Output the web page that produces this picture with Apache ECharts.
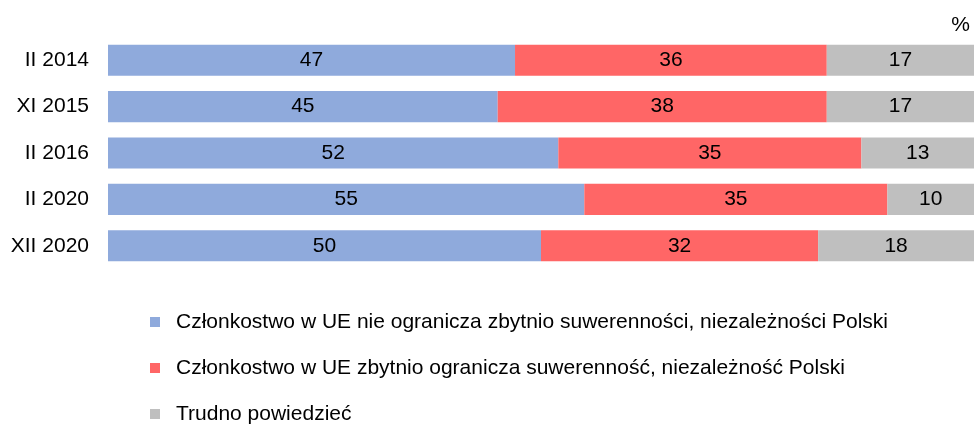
<!DOCTYPE html>
<html>
<head>
<meta charset="utf-8">
<script src="https://cdn.jsdelivr.net/npm/echarts@6/dist/echarts.min.js"></script>
<style>
html, body { margin: 0; padding: 0; background: #fff; }
#chart { width: 974px; height: 426px; }
</style>
</head>
<body>
<div id="chart"></div>
<script>
var categories = ['II 2014', 'XI 2015', 'II 2016', 'II 2020', 'XII 2020'];
var seriesNames = [
    'Członkostwo w UE nie ogranicza zbytnio suwerenności, niezależności Polski',
    'Członkostwo w UE zbytnio ogranicza suwerenność, niezależność Polski',
    'Trudno powiedzieć'
];
var nieOgranicza = [47, 45, 52, 55, 50];
var ogranicza = [36, 38, 35, 35, 32];
var trudno = [17, 17, 13, 10, 18];
var colors = ['#8faadc', '#ff6666', '#bfbfbf'];

var font = 'Liberation Sans, Arial, sans-serif';

function makeSeries(name, data, color) {
    return {
        name: name,
        type: 'bar',
        stack: 'total',
        barCategoryGap: '33%',
        data: data,
        itemStyle: { color: color },
        label: {
            show: true,
            position: 'inside',
            color: '#000',
            fontFamily: font,
            fontSize: 21
        }
    };
}

var myChart = echarts.init(document.getElementById('chart'));
var option = {
    animation: false,
    grid: { left: 108, right: 0, top: 37, bottom: 157 },
    xAxis: {
        type: 'value',
        min: 0,
        max: 100,
        show: false
    },
    yAxis: {
        type: 'category',
        data: categories,
        inverse: true,
        axisLine: { show: false },
        axisTick: { show: false },
        axisLabel: { color: '#000', fontFamily: font, fontSize: 21, margin: 19 }
    },
    legend: {
        orient: 'vertical',
        left: 145,
        top: 306,
        height: 200,
        itemWidth: 10,
        itemHeight: 10,
        itemGap: 24,
        icon: 'rect',
        data: seriesNames,
        textStyle: { color: '#000', fontFamily: font, fontSize: 21, lineHeight: 22, padding: [0, 0, 0, 11] }
    },
    graphic: [{
        type: 'text',
        right: 4,
        top: 15,
        style: { text: '%', fill: '#000', font: '21px ' + font }
    }],
    series: [
        makeSeries(seriesNames[0], nieOgranicza, colors[0]),
        makeSeries(seriesNames[1], ogranicza, colors[1]),
        makeSeries(seriesNames[2], trudno, colors[2])
    ]
};
myChart.setOption(option);
</script>
</body>
</html>
